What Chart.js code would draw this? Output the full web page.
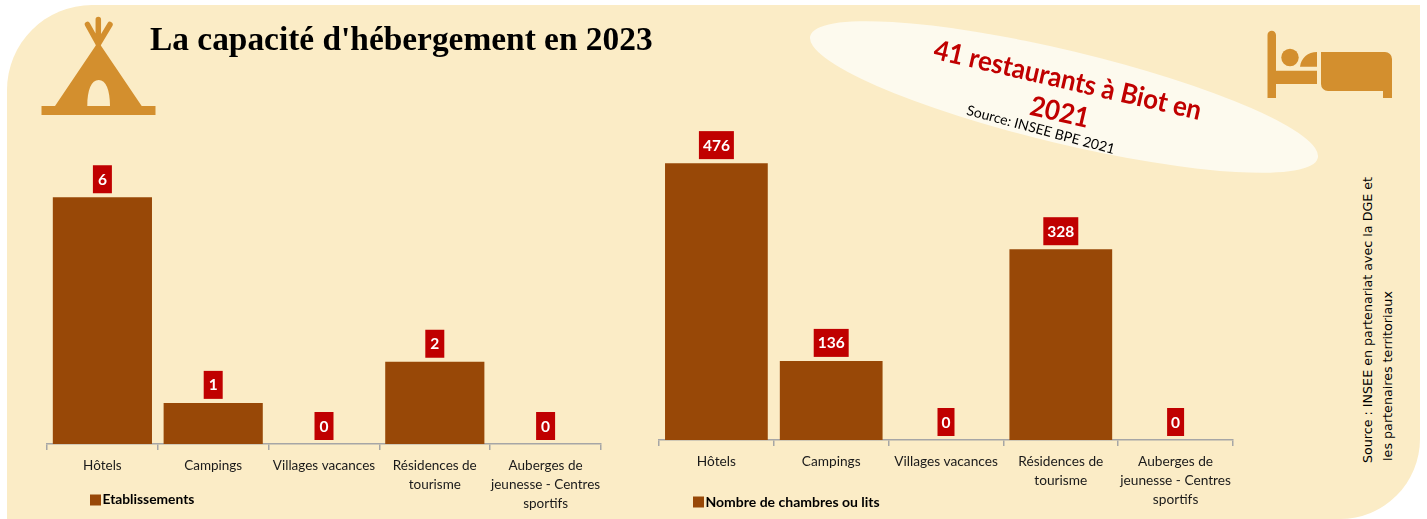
<!DOCTYPE html>
<html><head><meta charset="utf-8">
<script src="https://cdn.jsdelivr.net/npm/chart.js@4"></script>
<style>
html,body{margin:0;padding:0;background:#fff;width:1427px;height:519px;overflow:hidden}
#stage{position:relative;width:1427px;height:519px;overflow:hidden}
#panel{position:absolute;left:7px;top:4.5px;width:1413px;height:514.5px;background:#FBECC6;border-radius:85px 0 80px 0}
svg{position:absolute;left:0;top:0}
canvas{position:absolute;top:0}
.t{position:absolute;white-space:nowrap;font-family:Lato,sans-serif}
</style></head><body>
<div id="stage">
<div id="panel"></div>
<svg width="1427" height="519">
<ellipse cx="1064" cy="97" rx="261" ry="46.5" transform="rotate(13.5 1064 97)" fill="#FDFAEE"/>
<g fill="#D38F2E">
<rect x="41.5" y="106" width="114" height="9"/>
<path fill-rule="evenodd" d="M98.3 41.7 L141.7 106 L55 106 Z M87.3 106 L110 106 C110 90 106 80 98.7 80 C91.3 80 87.3 90 87.3 106 Z"/>
<path d="M98.3 44 L87.5 24.5 M98.3 42 V19.5 M98.3 44 L110 24.5" stroke="#D38F2E" stroke-width="5.5" stroke-linecap="round" fill="none"/>
<path d="M1267.5 35 a4.25 4.25 0 0 1 8.5 0 V70.7 H1317 V84 H1276 V98 H1267.5 Z"/>
<circle cx="1290" cy="57.5" r="8.7"/>
<path d="M1317 52 V66.7 H1300 C1301 58 1308 52 1317 52 Z"/>
<path d="M1321 52 H1385 a7 7 0 0 1 7 7 V98 H1383 V91 H1328 a7 7 0 0 1 -7 -7 Z"/>
</g>
</svg>
<canvas id="c1"></canvas>
<canvas id="c2"></canvas>
<div class="t" style="left:150px;top:20px;font:bold 33.4px 'Liberation Serif',serif;color:#000">La capacité d'hébergement en 2023</div>
<div class="t" style="left:1068px;top:79px;transform:translate(-50%,-50%) rotate(13deg) scaleX(.94);font-weight:700;font-size:27.5px;color:#C00000">41 restaurants à Biot en</div>
<div class="t" style="left:1060px;top:111px;transform:translate(-50%,-50%) rotate(13deg) scaleX(.94);font-weight:700;font-size:27.5px;color:#C00000">2021</div>
<div class="t" style="left:1041px;top:129px;transform:translate(-50%,-50%) rotate(15deg);font-size:14px;color:#000">Source: INSEE BPE 2021</div>
<div class="t" style="left:1367px;top:320px;transform:translate(-50%,-50%) rotate(-90deg);font:12.7px 'DejaVu Sans',sans-serif;color:#000">Source : INSEE en partenariat avec la DGE et</div>
<div class="t" style="left:1387px;top:376px;transform:translate(-50%,-50%) rotate(-90deg);font:12.7px 'DejaVu Sans',sans-serif;color:#000">les partenaires territoriaux</div>
</div>
<script>
const categories=["Hôtels","Campings","Villages vacances",["Résidences de","tourisme"],["Auberges de","jeunesse - Centres","sportifs"]];
const etablissements=[6,1,0,2,0];
const chambres=[476,136,0,328,0];
const seriesNames=["Etablissements","Nombre de chambres ou lits"];
const BAR="#984807",RED="#C00000",FONT="Lato, sans-serif";

const labelsPlugin={id:"valueBoxes",
 afterDatasetsDraw(chart,a,o){
  const ctx=chart.ctx,meta=chart.getDatasetMeta(0),ds=chart.data.datasets[0];
  ctx.save();ctx.font="bold 15.5px "+FONT;ctx.textAlign="center";ctx.textBaseline="middle";
  meta.data.forEach((el,i)=>{
   const s=String(ds.data[i]),w=ctx.measureText(s).width+o.padX*2,h=o.h,b=el.y-4;
   ctx.fillStyle=RED;ctx.fillRect(el.x-w/2,b-h,w,h);
   ctx.fillStyle="#fff";ctx.fillText(s,el.x,b-h/2+0.5);
  });
  ctx.fillStyle=BAR;ctx.fillRect(o.legendX,o.legendY-5.5,11,11);
  ctx.fillStyle="#000";ctx.font="bold "+o.legendSize+"px "+FONT;ctx.textAlign="left";
  ctx.fillText(ds.label,o.legendX+12.5,o.legendY);
  ctx.restore();
 }};

function make(id,left,width,height,padL,padR,padT,vals,name,ymax,legendX,legendY,padX,legendSize,tickSize){
 const cv=document.getElementById(id);cv.width=width;cv.height=height;cv.style.left=left+"px";
 cv.style.width=width+"px";cv.style.height=height+"px";
 return new Chart(cv,{type:"bar",plugins:[labelsPlugin],
  data:{labels:categories,datasets:[{label:name,data:vals,backgroundColor:BAR,barPercentage:0.895,categoryPercentage:1}]},
  options:{responsive:false,animation:false,
   layout:{padding:{left:padL,right:padR,top:padT,bottom:0}},
   plugins:{tooltip:{enabled:false},legend:{display:false},
    valueBoxes:{legendX,legendY,padX,h:28,legendSize}},
   scales:{
    x:{afterFit(s){s.height=75;},
     grid:{drawOnChartArea:false,drawTicks:true,tickLength:6,color:"#A6A6A6",lineWidth:1.5},
     border:{color:"#A6A6A6",width:1.5},
     ticks:{color:"#1a1a1a",maxRotation:0,minRotation:0,autoSkip:false,padding:6,font:{family:FONT,size:tickSize,lineHeight:1.4}}},
    y:{display:false,min:0,max:ymax}
   }}});
}
document.fonts.load("13px Lato").finally(()=>{
 make("c1",0,630,519,47,29,115,etablissements,seriesNames[0],8,90,500,5,13.8,13.5);
 make("c2",630,640,515,29,37,91,chambres,seriesNames[1],600,63,502,4,14,13.7);
});
</script>
</body></html>
